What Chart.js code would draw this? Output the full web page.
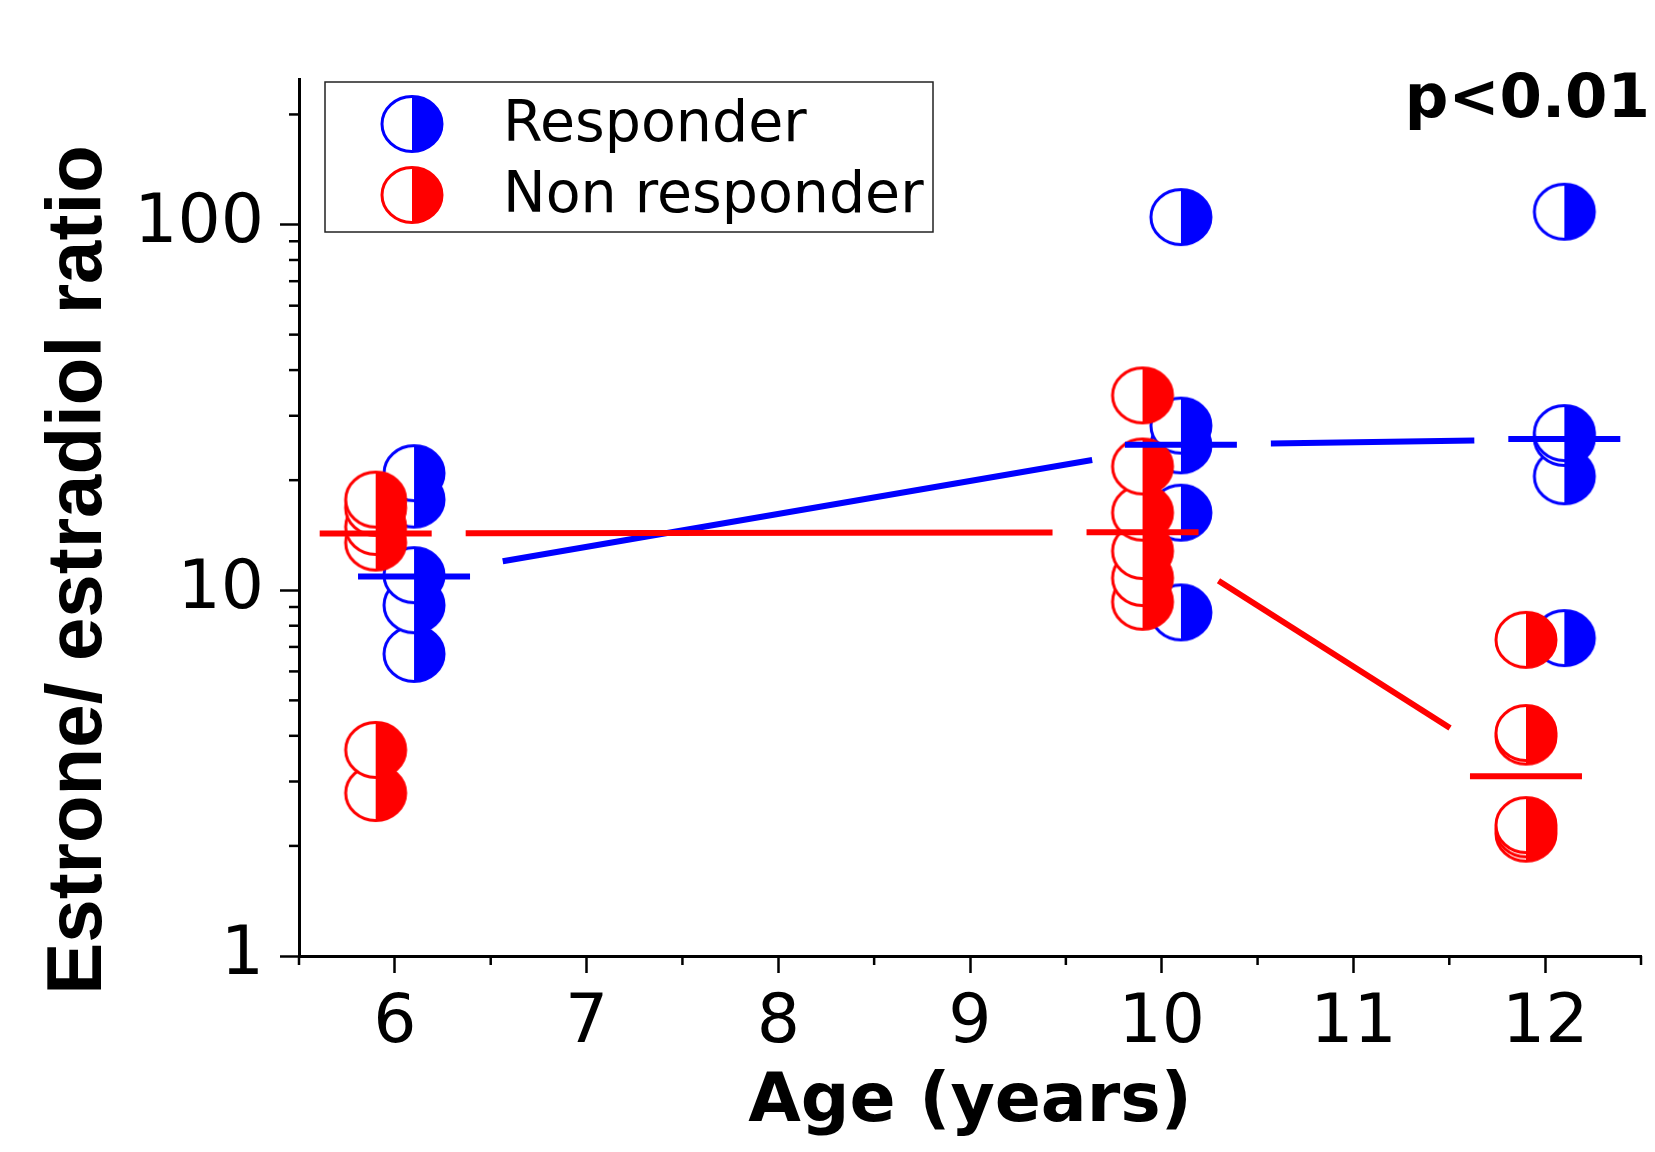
<!DOCTYPE html>
<html>
<head>
<meta charset="utf-8">
<script src="https://cdn.jsdelivr.net/npm/chart.js@4.4.1/dist/chart.umd.min.js"></script>
<style>
    html, body {margin: 0; padding: 0; background: #ffffff;}
</style>
</head>
<body>
<canvas id="EstroneChart" width="1655" height="1152"></canvas>
<script>
// ---------------- DATA -------------------
const Ages = [6, 10, 12]
const XTicks = [6, 7, 8, 9, 10, 11, 12]
const XMinorTicks = [5.5, 6.5, 7.5, 8.5, 9.5, 10.5, 11.5, 12.5]
const YTicks = [1, 10, 100]
const YMinorTicks = [2, 3, 4, 5, 6, 7, 8, 9, 20, 30, 40, 50, 60, 70, 80, 90, 200]

// ratios read per age, low to high (higher ones drawn on top)
const Responder6 = [6.7, 9.1, 11.0, 17.7, 20.9]
const Responder10 = [8.7, 16.3, 24.9, 28.2, 104.8]
const Responder12 = [7.4, 20.5, 26.1, 26.9, 108.4]
const NonResponder6 = [2.79, 3.66, 13.5, 14.9, 16.8, 17.7]
const NonResponder10 = [9.3, 10.8, 12.8, 16.3, 21.8, 34.1]
const NonResponder12 = [2.16, 2.22, 2.28, 3.98, 4.07, 7.32]

// median bars
const ResponderMedian = [10.9, 25.0, 25.9]
const NonResponderMedian = [14.3, 14.4, 3.1]

// ---------------- HELPERS -------------------
const Blue = '#0000ff'
const Red = '#ff0000'
const Shift = 0.1   // responders drawn right of the age, non responders left

function ToPoints(age, values, shift) {
    return values.map(v => ({x: age + shift, y: v}))
}

function HalfFilledMarker(color) {// circle, left half white, right half filled
    const c = document.createElement('canvas')
    c.width = 68
    c.height = 62
    const ctx = c.getContext('2d')
    const cx = 34, cy = 31, rx = 30, ry = 27.5
    ctx.fillStyle = '#ffffff'
    ctx.beginPath(); ctx.ellipse(cx, cy, rx, ry, 0, 0, Math.PI * 2); ctx.fill()
    ctx.fillStyle = color
    ctx.beginPath(); ctx.ellipse(cx, cy, rx, ry, 0, -Math.PI / 2, Math.PI / 2); ctx.closePath(); ctx.fill()
    ctx.strokeStyle = color
    ctx.lineWidth = 3
    ctx.beginPath(); ctx.ellipse(cx, cy, rx, ry, 0, 0, Math.PI * 2); ctx.stroke()
    return c
}
const BlueMarker = HalfFilledMarker(Blue)
const RedMarker = HalfFilledMarker(Red)

const ResponderPoints = [].concat(
    ToPoints(Ages[0], Responder6, Shift),
    ToPoints(Ages[1], Responder10, Shift),
    ToPoints(Ages[2], Responder12, Shift))
const NonResponderPoints = [].concat(
    ToPoints(Ages[0], NonResponder6, -Shift),
    ToPoints(Ages[1], NonResponder10, -Shift),
    ToPoints(Ages[2], NonResponder12, -Shift))

// ---------------- PLUGINS -------------------

// lines between the medians, stopped short of each bar
const MedianLinks = {
    id: 'medianLinks',
    afterDatasetsDraw(chart) {
        const ctx = chart.ctx
        const gap = 90
        chart.data.datasets.forEach((ds, i) => {
            if (!ds.linkColor) return
            const pts = chart.getDatasetMeta(i).data
            ctx.save()
            ctx.strokeStyle = ds.linkColor
            ctx.lineWidth = 6
            for (let k = 0; k < pts.length - 1; k++) {
                const a = pts[k], b = pts[k + 1]
                const len = Math.hypot(b.x - a.x, b.y - a.y)
                const ux = (b.x - a.x) / len, uy = (b.y - a.y) / len
                ctx.beginPath()
                ctx.moveTo(a.x + ux * gap, a.y + uy * gap)
                ctx.lineTo(b.x - ux * gap, b.y - uy * gap)
                ctx.stroke()
            }
            ctx.restore()
        })
    }
}

// short minor ticks, title of y, legend box and p value
const Extras = {
    id: 'extras',
    afterDraw(chart) {
        const ctx = chart.ctx
        const xs = chart.scales.x, ys = chart.scales.y
        ctx.save()
        ctx.strokeStyle = '#000000'
        ctx.lineWidth = 2.5
        XMinorTicks.forEach(v => {
            const px = xs.getPixelForValue(v)
            ctx.beginPath(); ctx.moveTo(px, xs.top); ctx.lineTo(px, xs.top + 9); ctx.stroke()
        })
        YMinorTicks.forEach(v => {
            const py = ys.getPixelForValue(v)
            ctx.beginPath(); ctx.moveTo(ys.right, py); ctx.lineTo(ys.right - 10, py); ctx.stroke()
        })

        // y title
        ctx.fillStyle = '#000000'
        ctx.translate(101, 570)
        ctx.rotate(-Math.PI / 2)
        ctx.font = 'bold 78px "Liberation Sans", Arial, sans-serif'
        ctx.textAlign = 'center'
        ctx.textBaseline = 'alphabetic'
        ctx.fillText('Estrone/ estradiol ratio', 0, 0)
        ctx.restore()

        // legend
        ctx.save()
        ctx.strokeStyle = '#222222'
        ctx.lineWidth = 1.5
        ctx.strokeRect(325, 82, 608, 150)
        ctx.font = '57px "DejaVu Sans", sans-serif'
        ctx.fillStyle = '#000000'
        ctx.textBaseline = 'middle'
        const entries = [
            {label: chart.data.datasets[0].label, marker: BlueMarker, y: 124},
            {label: chart.data.datasets[1].label, marker: RedMarker, y: 195}
        ]
        entries.forEach(e => {
            ctx.drawImage(e.marker, 412 - e.marker.width / 2, e.y - e.marker.height / 2)
            ctx.fillText(e.label, 503, e.y + 2)
        })

        // p value
        ctx.font = 'bold 61px "DejaVu Sans", sans-serif'
        ctx.textAlign = 'right'
        ctx.textBaseline = 'alphabetic'
        ctx.fillText('p<0.01', 1650, 117)
        ctx.restore()
    }
}

// ---------------- CHART -------------------
const ChartCtx = document.getElementById('EstroneChart').getContext('2d')
new Chart(ChartCtx, {
    type: 'scatter',
    data: {
        datasets: [{
            label: 'Responder',
            data: ResponderPoints,
            pointStyle: BlueMarker,
            order: 3
        }, {
            label: 'Non responder',
            data: NonResponderPoints,
            pointStyle: RedMarker,
            order: 2
        }, {
            label: 'Responder median',
            data: Ages.map((a, i) => ({x: a + Shift, y: ResponderMedian[i]})),
            pointStyle: 'line',
            pointRadius: 56,
            pointBorderWidth: 6,
            pointBorderColor: Blue,
            linkColor: Blue,
            order: 1
        }, {
            label: 'Non responder median',
            data: Ages.map((a, i) => ({x: a - Shift, y: NonResponderMedian[i]})),
            pointStyle: 'line',
            pointRadius: 56,
            pointBorderWidth: 6,
            pointBorderColor: Red,
            linkColor: Red,
            order: 0
        }]
    },
    options: {
        responsive: false,
        animation: false,
        events: [],
        layout: {autoPadding: false, padding: {top: 79, right: 14, bottom: 0, left: 0}},
        plugins: {
            legend: {display: false},
            tooltip: {enabled: false}
        },
        scales: {
            x: {
                type: 'linear',
                min: 5.5,
                max: 12.5,
                afterBuildTicks: s => { s.ticks = XTicks.map(v => ({value: v})) },
                afterFit: s => { s.height = 196; s.paddingLeft = 0; s.paddingRight = 0 },
                grid: {drawOnChartArea: false, drawTicks: true, tickLength: 17, tickColor: '#000', tickWidth: 2.5},
                border: {display: true, color: '#000', width: 3},
                ticks: {
                    color: '#000',
                    padding: 11,
                    autoSkip: false,
                    maxRotation: 0,
                    font: {family: 'DejaVu Sans', size: 68}
                },
                title: {
                    display: true,
                    text: 'Age (years)',
                    color: '#000',
                    padding: {top: 0, bottom: 15},
                    font: {family: 'DejaVu Sans', size: 68, weight: 'bold', lineHeight: 1}
                }
            },
            y: {
                type: 'logarithmic',
                min: 1,
                max: 250,
                afterBuildTicks: s => { s.ticks = YTicks.map(v => ({value: v})) },
                afterFit: s => { s.width = 299; s.paddingTop = 0; s.paddingBottom = 0 },
                grid: {drawOnChartArea: false, drawTicks: true, tickLength: 19, tickColor: '#000', tickWidth: 2.5},
                border: {display: true, color: '#000', width: 3},
                ticks: {
                    color: '#000',
                    padding: 16,
                    autoSkip: false,
                    callback: v => String(v),
                    font: {family: 'DejaVu Sans', size: 68}
                }
            }
        }
    },
    plugins: [MedianLinks, Extras]
})
</script>
</body>
</html>
